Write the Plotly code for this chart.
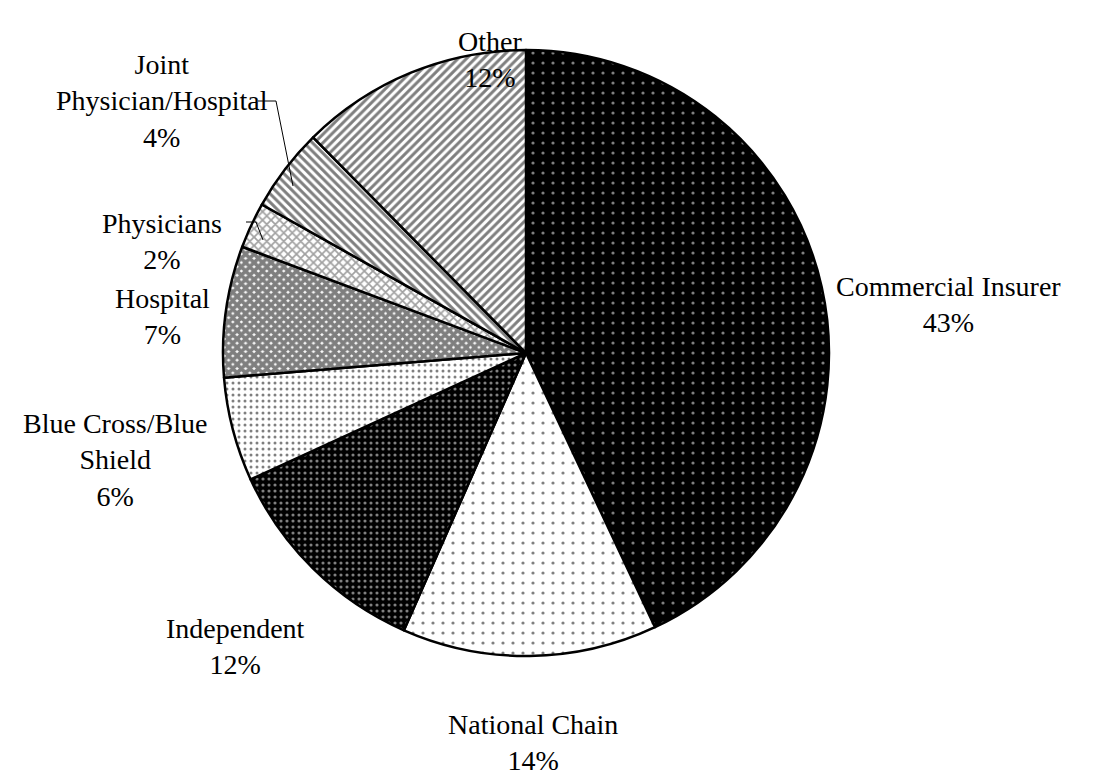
import plotly.graph_objects as go

categories = ["Commercial Insurer", "National Chain", "Independent", "Blue Cross/Blue Shield",
              "Hospital", "Physicians", "Joint Physician/Hospital", "Other"]
display_labels = ["Commercial Insurer", "National Chain", "Independent", "Blue Cross/Blue<br>Shield",
                  "Hospital", "Physicians", "Joint<br>Physician/Hospital", "Other"]
shares = [43.0, 13.6, 11.55, 5.55, 7.0, 2.45, 4.45, 12.4]

W, H = 1099, 778
OFF = 8  # page body margin
cx, cy, r = 526 - OFF, 353 - OFF, 303

# pattern styles per slice
pat_shape = [".", ".", ".", ".", "x", "x", "\\", "/"]
pat_bg = ["black", "white", "black", "white", "white", "white", "white", "white"]
pat_fg = ["white", "black", "white", "black", "black", "#444444", "black", "black"]
pat_size = [10, 10, 6, 6, 6, 6, 6, 6]
pat_sol = [0.08, 0.08, 0.22, 0.2, 0.85, 0.5, 0.5, 0.5]

fig = go.Figure(go.Pie(
    labels=categories, values=shares, sort=False, direction="clockwise", rotation=0,
    textinfo="none", hoverinfo="label+percent", showlegend=False,
    marker=dict(colors=pat_bg, line=dict(color="black", width=2.5),
                pattern=dict(shape=pat_shape, bgcolor=pat_bg, fgcolor=pat_fg,
                             size=pat_size, solidity=pat_sol, fillmode="overlay")),
    domain=dict(x=[(cx - r) / W, (cx + r) / W], y=[(H - cy - r) / H, (H - cy + r) / H]),
))

# label positions (pixel centres in the screenshot)
label_pos = [(948, 305), (533, 742), (235, 646), (115, 460), (162, 316), (162, 241), (162, 101), (490, 60)]
total = sum(shares)
annotations = []
for lab, v, (px, py) in zip(display_labels, shares, label_pos):
    annotations.append(dict(
        x=(px - OFF) / W, y=1 - (py - OFF) / H, xref="paper", yref="paper",
        xanchor="center", yanchor="middle",
        text=f"{lab}<br>{round(v / total * 100)}%", showarrow=False, align="center",
        font=dict(family="Liberation Serif", size=28, color="black")))

leaders = [[(258, 101), (276, 101), (293, 186)], [(246, 222), (256, 222), (263, 240)]]
shapes = []
for pts in leaders:
    for (x0, y0), (x1, y1) in zip(pts[:-1], pts[1:]):
        shapes.append(dict(type="line", xref="paper", yref="paper",
                           x0=(x0 - OFF) / W, y0=1 - (y0 - OFF) / H,
                           x1=(x1 - OFF) / W, y1=1 - (y1 - OFF) / H,
                           line=dict(color="black", width=1)))

fig.update_layout(width=W, height=H, margin=dict(l=0, r=0, t=0, b=0),
                  paper_bgcolor="white", plot_bgcolor="white",
                  annotations=annotations, shapes=shapes)
fig.write_html("out.html")
